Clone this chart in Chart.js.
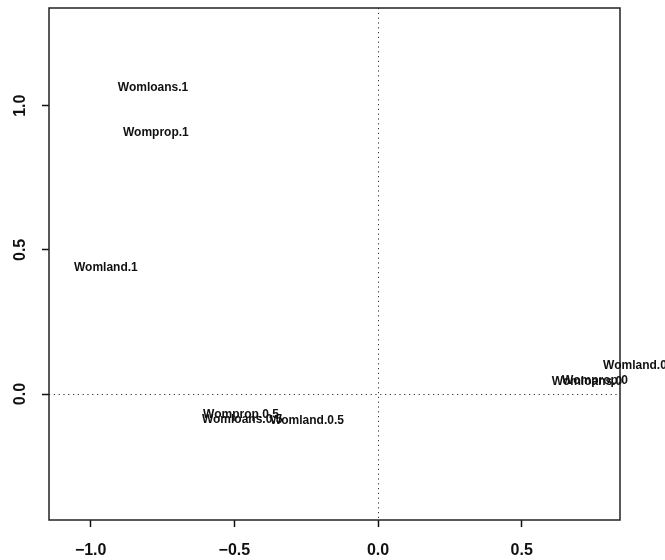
<!DOCTYPE html>
<html>
<head>
<meta charset="utf-8">
<script src="https://cdn.jsdelivr.net/npm/chart.js@4/dist/chart.umd.min.js"></script>
<style>
  html, body { margin: 0; padding: 0; background: #fff; }
  #plot { display: block; }
</style>
</head>
<body>
<canvas id="plot" width="665" height="560"></canvas>
<script>
// point labels and their coordinates
const pointLabels = [
  "Womloans.1", "Womprop.1", "Womland.1",
  "Womprop.0.5", "Womloans.0.5", "Womland.0.5",
  "Womland.0", "Womloans.0", "Womprop.0"
];
const xValues = [-0.783, -0.773, -0.947, -0.477, -0.473, -0.247, 0.894, 0.727, 0.755];
const yValues = [1.061, 0.905, 0.437, -0.070, -0.088, -0.092, 0.100, 0.042, 0.045];

const xTicks = [-1.0, -0.5, 0.0, 0.5];
const yTicks = [0.0, 0.5, 1.0];
const xRange = [-1.145, 0.842];
const yRange = [-0.437, 1.339];

const FONT = "'Liberation Sans', Arial, Helvetica, sans-serif";

function fmt(v) {
  const s = Math.abs(v).toFixed(1);
  return v < 0 ? "\u2212" + s : s;
}

const points = xValues.map((x, i) => ({ x, y: yValues[i] }));

const framePlugin = {
  id: "frame",
  afterDatasetsDraw(chart) {
    const { ctx, chartArea: a, scales } = chart;
    ctx.save();
    // dotted reference lines at 0
    ctx.strokeStyle = "#333";
    ctx.lineWidth = 1;
    ctx.setLineDash([1.2, 3.6]);
    const x0 = Math.round(scales.x.getPixelForValue(0)) + 0.5;
    const y0 = Math.round(scales.y.getPixelForValue(0)) + 0.5;
    ctx.beginPath();
    ctx.moveTo(x0, a.top); ctx.lineTo(x0, a.bottom);
    ctx.moveTo(a.left, y0); ctx.lineTo(a.right, y0);
    ctx.stroke();
    ctx.setLineDash([]);

    // box
    ctx.strokeStyle = "#222";
    ctx.lineWidth = 1.5;
    ctx.strokeRect(a.left, a.top, a.right - a.left, a.bottom - a.top);

    // point labels
    const meta = chart.getDatasetMeta(0);
    ctx.fillStyle = "#111";
    ctx.font = "bold 12px " + FONT;
    ctx.textAlign = "center";
    ctx.textBaseline = "middle";
    meta.data.forEach((pt, i) => ctx.fillText(pointLabels[i], pt.x, pt.y));

    // rotated y tick labels
    ctx.font = "bold 16px " + FONT;
    ctx.fillStyle = "#111";
    for (const v of yTicks) {
      const py = scales.y.getPixelForValue(v);
      ctx.save();
      ctx.translate(21, py);
      ctx.rotate(-Math.PI / 2);
      ctx.fillText(fmt(v), 0, 0);
      ctx.restore();
    }
    ctx.restore();
  }
};

new Chart(document.getElementById("plot"), {
  type: "scatter",
  data: {
    datasets: [{
      data: points,
      pointRadius: 0,
      pointHoverRadius: 0,
      clip: false
    }]
  },
  options: {
    responsive: false,
    animation: false,
    events: [],
    layout: { padding: { top: 8, right: 45, left: 0, bottom: 0 } },
    plugins: { legend: { display: false }, tooltip: { enabled: false } },
    scales: {
      x: {
        type: "linear",
        min: xRange[0],
        max: xRange[1],
        afterBuildTicks: s => { s.ticks = xTicks.map(v => ({ value: v })); },
        afterFit: s => { s.height = 40; },
        ticks: {
          callback: v => fmt(v),
          color: "#111",
          font: { family: FONT, size: 16, weight: "bold" },
          padding: 14,
          maxRotation: 0,
          autoSkip: false
        },
        grid: { drawOnChartArea: false, drawTicks: true, tickLength: 7, tickColor: "#111", tickWidth: 1.5 },
        border: { display: false }
      },
      y: {
        type: "linear",
        min: yRange[0],
        max: yRange[1],
        afterBuildTicks: s => { s.ticks = yTicks.map(v => ({ value: v })); },
        afterFit: s => { s.width = 49; },
        ticks: { display: false },
        grid: { drawOnChartArea: false, drawTicks: true, tickLength: 7, tickColor: "#111", tickWidth: 1.5 },
        border: { display: false }
      }
    }
  },
  plugins: [framePlugin]
});
</script>
</body>
</html>
